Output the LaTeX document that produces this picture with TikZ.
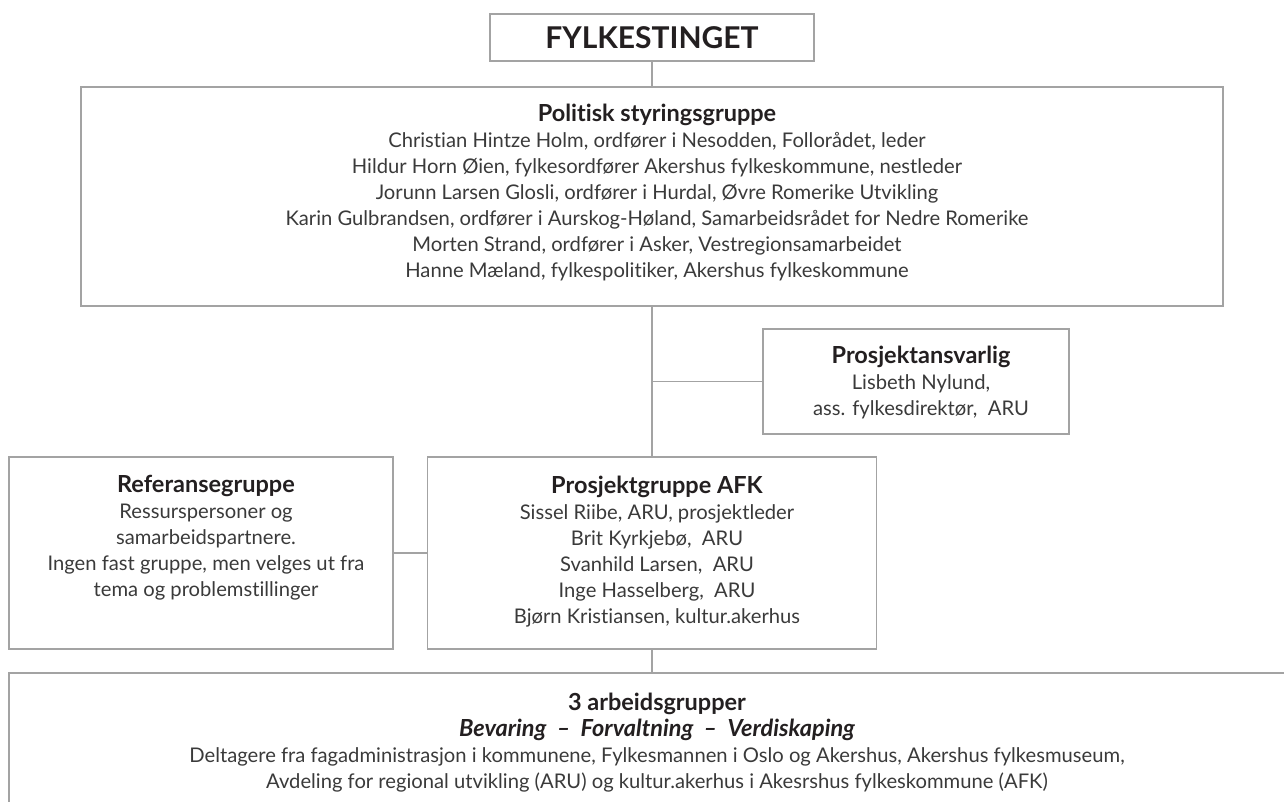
\documentclass[tikz,border=0pt]{standalone}
\usepackage{fontspec}
\setmainfont{Lato}[Ligatures=NoCommon]
\usetikzlibrary{positioning}

\definecolor{linegray}{HTML}{A3A3A3}
\definecolor{bodytext}{HTML}{3A3A3A}
\definecolor{titletext}{HTML}{231F20}
\newcommand{\boxtitle}[1]{{\color{titletext}\bfseries\fontsize{23.5}{26}\selectfont #1}}

\begin{document}
\begin{tikzpicture}[x=1pt,y=1pt]
    \tikzstyle{box} = [rectangle,draw=linegray,line width=1.2pt,inner sep=0pt];
    \tikzstyle{txt} = [align=center,inner sep=0pt,xshift=5pt,text=bodytext,
    font=\fontsize{20.2}{26}\selectfont];
    \tikzstyle{link} = [draw=linegray,line width=1.2pt];

    \useasboundingbox (0,0) rectangle (1284,802);

    \node[box,name=fylke,minimum width=324pt,minimum height=47pt,
    text=titletext,font=\bfseries\fontsize{30}{34}\selectfont] at (652,764.5) {FYLKESTINGET};
    \node[box,name=politisk,below of=fylke,node distance=159pt,
    minimum width=1142pt,minimum height=219pt] {};
    \node[box,name=ansvarlig,minimum width=306pt,minimum height=105pt] at (916,420.5) {};
    \node[box,name=prosjekt,below of=politisk,node distance=356.5pt,
    minimum width=449pt,minimum height=192pt] {};
    \node[box,name=referanse,left of=prosjekt,node distance=451pt,
    minimum width=384pt,minimum height=192pt] {};
    \node[box,name=arbeid,below of=prosjekt,node distance=189pt,
    minimum width=1286pt,minimum height=138pt] {};

    % texts in the boxes
    \node[txt,below=17pt of politisk.north,name=politisktxt] {\boxtitle{Politisk styringsgruppe}\\
    Christian Hintze Holm, ordfører i Nesodden, Follorådet, leder\\
    Hildur Horn Øien, fylkesordfører Akershus fylkeskommune, nestleder\\
    Jorunn Larsen Glosli, ordfører i Hurdal, Øvre Romerike Utvikling\\
    Karin Gulbrandsen, ordfører i Aurskog-Høland, Samarbeidsrådet for Nedre Romerike\\
    Morten Strand, ordfører i Asker, Vestregionsamarbeidet\\
    Hanne Mæland, fylkespolitiker, Akershus fylkeskommune};
    \node[txt,below=17pt of ansvarlig.north,name=ansvarligtxt] {\boxtitle{Prosjektansvarlig}\\
    Lisbeth Nylund,\\
    ass. fylkesdirektør, \ ARU};
    \node[txt,below=19pt of referanse.north,name=referansetxt] {\boxtitle{Referansegruppe}\\
    Ressurspersoner og\\
    samarbeidspartnere.\\
    Ingen fast gruppe, men velges ut fra\\
    tema og problemstillinger};
    \node[txt,below=19pt of prosjekt.north,name=prosjekttxt] {\boxtitle{Prosjektgruppe AFK}\\
    Sissel Riibe, ARU, prosjektleder\\
    Brit Kyrkjebø, \ ARU\\
    Svanhild Larsen, \ ARU\\
    Inge Hasselberg, \ ARU\\
    Bjørn Kristiansen, kultur.akerhus};
    \node[txt,below=20pt of arbeid.north,name=arbeidtxt] {\boxtitle{3 arbeidsgrupper}\\
    \boxtitle{\itshape Bevaring \ – \ Forvaltning \ – \ Verdiskaping}\\
    Deltagere fra fagadministrasjon i kommunene, Fylkesmannen i Oslo og Akershus, Akershus fylkesmuseum,\\
    Avdeling for regional utvikling (ARU) og kultur.akerhus i Akesrshus fylkeskommune (AFK)};

    \coordinate (branch) at (politisk.south |- ansvarlig.west);

    \path[link] (fylke.south) -- (politisk.north);
    \path[link] (politisk.south) -- (prosjekt.north);
    \path[link] (branch) -- (ansvarlig.west);
    \path[link] (referanse.east) -- (prosjekt.west);
    \path[link] (prosjekt.south) -- (arbeid.north);
\end{tikzpicture}
\end{document}
